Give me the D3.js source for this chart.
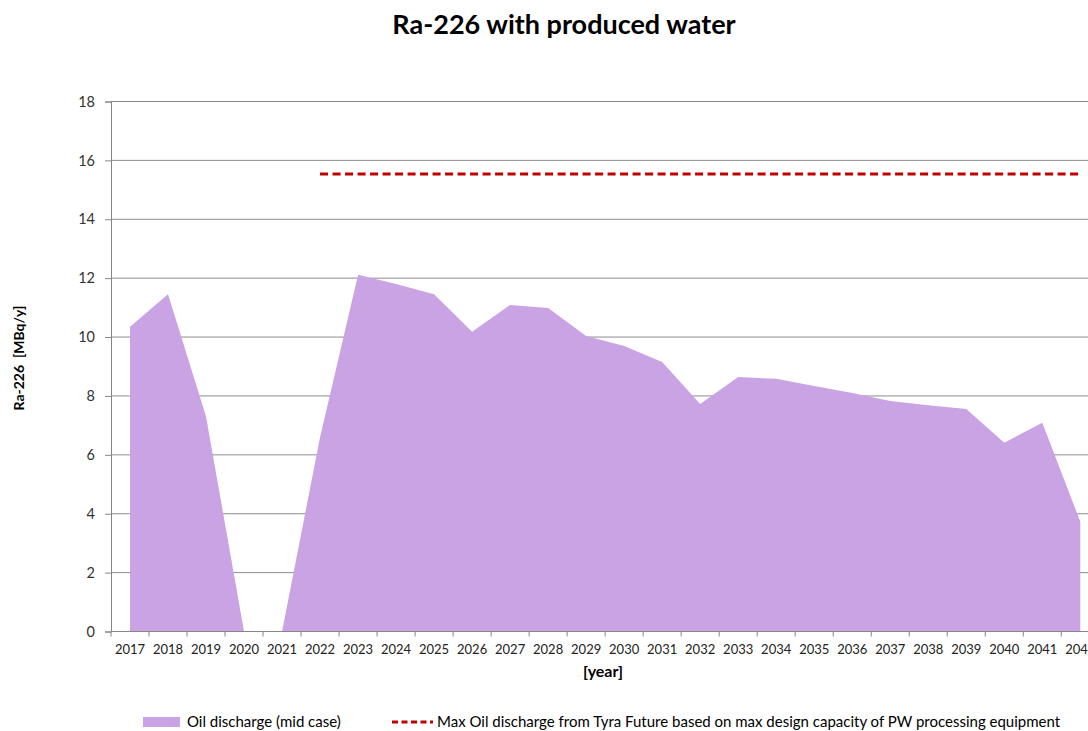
<!DOCTYPE html>
<html>
<head>
<meta charset="utf-8">
<script src="https://cdn.jsdelivr.net/npm/d3@7"></script>
<style>
  body { margin: 0; background: #fff; }
  text { font-family: Lato, "Open Sans", sans-serif; }
</style>
</head>
<body>
<div id="chart"></div>
<script>
// Data
const years = [2017, 2018, 2019, 2020, 2021, 2022, 2023, 2024, 2025, 2026, 2027, 2028, 2029,
               2030, 2031, 2032, 2033, 2034, 2035, 2036, 2037, 2038, 2039, 2040, 2041, 2042];
const oilDischarge = [10.35, 11.45, 7.3, 0, 0, 6.6, 12.12, 11.8, 11.45, 10.18, 11.09, 10.99, 10.04,
                      9.7, 9.15, 7.73, 8.64, 8.58, 8.34, 8.1, 7.83, 7.68, 7.56, 6.41, 7.09, 3.73];
const maxDesign = [null, null, null, null, null, 15.54, 15.54, 15.54, 15.54, 15.54, 15.54, 15.54, 15.54,
                   15.54, 15.54, 15.54, 15.54, 15.54, 15.54, 15.54, 15.54, 15.54, 15.54, 15.54, 15.54, 15.54];
const yTicks = [0, 2, 4, 6, 8, 10, 12, 14, 16, 18];

const width = 1088, height = 731;
const margin = { top: 101.5, left: 111, bottom: 99.5 };
const plotW = 988.3; // plot runs past the right edge of the picture
const plotH = height - margin.top - margin.bottom;

const svg = d3.select('#chart').append('svg')
    .attr('width', width)
    .attr('height', height);

const x = d3.scaleBand()
    .domain(years)
    .range([margin.left, margin.left + plotW]);

const y = d3.scaleLinear()
    .domain([0, 18])
    .range([margin.top + plotH, margin.top]);

const cx = d => x(d) + x.bandwidth() / 2;

// Gridlines
svg.append('g')
    .selectAll('line')
    .data(yTicks.filter(d => d > 0))
    .enter()
    .append('line')
    .attr('x1', margin.left)
    .attr('x2', margin.left + plotW)
    .attr('y1', d => y(d))
    .attr('y2', d => y(d))
    .attr('stroke', '#8c8c8c')
    .attr('stroke-width', 1);

// Area
const area = d3.area()
    .x((d, i) => cx(years[i]))
    .y0(y(0))
    .y1(d => y(d));

svg.append('path')
    .datum(oilDischarge)
    .attr('d', area)
    .attr('fill', '#c9a3e3');

// Dashed line
const line = d3.line()
    .defined(d => d != null)
    .x((d, i) => cx(years[i]))
    .y(d => y(d));

svg.append('path')
    .datum(maxDesign)
    .attr('d', line)
    .attr('fill', 'none')
    .attr('stroke', '#c00000')
    .attr('stroke-width', 3)
    .attr('stroke-dasharray', '8,4.5');

// Y axis
const yAxis = svg.append('g')
    .attr('transform', `translate(${margin.left},0)`)
    .call(d3.axisLeft(y).tickValues(yTicks).tickSize(6).tickPadding(10));
yAxis.select('.domain').attr('stroke', '#868686');
yAxis.selectAll('.tick line').attr('stroke', '#868686');
yAxis.selectAll('.tick text')
    .attr('fill', '#333')
    .style('font-size', '14.5px');

// X axis (ticks between categories)
const xAxisG = svg.append('g')
    .attr('transform', `translate(0,${y(0)})`);
xAxisG.append('line')
    .attr('x1', margin.left)
    .attr('x2', margin.left + plotW)
    .attr('stroke', '#868686');
xAxisG.selectAll('.tk')
    .data(years)
    .enter()
    .append('line')
    .attr('x1', d => x(d))
    .attr('x2', d => x(d))
    .attr('y1', 0)
    .attr('y2', 5)
    .attr('stroke', '#868686');
xAxisG.selectAll('.lbl')
    .data(years)
    .enter()
    .append('text')
    .attr('x', d => cx(d))
    .attr('y', 22)
    .attr('text-anchor', 'middle')
    .attr('fill', '#222')
    .style('font-size', '13px')
    .text(d => d);

// Titles
svg.append('text')
    .attr('x', 564)
    .attr('y', 34)
    .attr('text-anchor', 'middle')
    .style('font-size', '27px')
    .style('font-weight', 'bold')
    .text('Ra-226 with produced water');

svg.append('text')
    .attr('transform', 'translate(24,358) rotate(-90)')
    .attr('text-anchor', 'middle')
    .style('font-size', '14px')
    .style('font-weight', 'bold')
    .style('white-space', 'pre')
    .text('Ra-226  [MBq/y]');

svg.append('text')
    .attr('x', 603)
    .attr('y', 677)
    .attr('text-anchor', 'middle')
    .style('font-size', '16px')
    .style('font-weight', 'bold')
    .text('[year]');

// Legend
const legend = svg.append('g');
legend.append('rect')
    .attr('x', 143).attr('y', 717)
    .attr('width', 37).attr('height', 10)
    .attr('fill', '#c9a3e3');
legend.append('text')
    .attr('x', 187).attr('y', 727)
    .style('font-size', '15px')
    .text('Oil discharge (mid case)');
legend.append('line')
    .attr('x1', 392).attr('x2', 433)
    .attr('y1', 722).attr('y2', 722)
    .attr('stroke', '#c00000')
    .attr('stroke-width', 3)
    .attr('stroke-dasharray', '6,3.5');
legend.append('text')
    .attr('x', 437).attr('y', 727)
    .style('font-size', '15px')
    .text('Max Oil discharge from Tyra Future based on max design capacity of PW processing equipment');
</script>
</body>
</html>
